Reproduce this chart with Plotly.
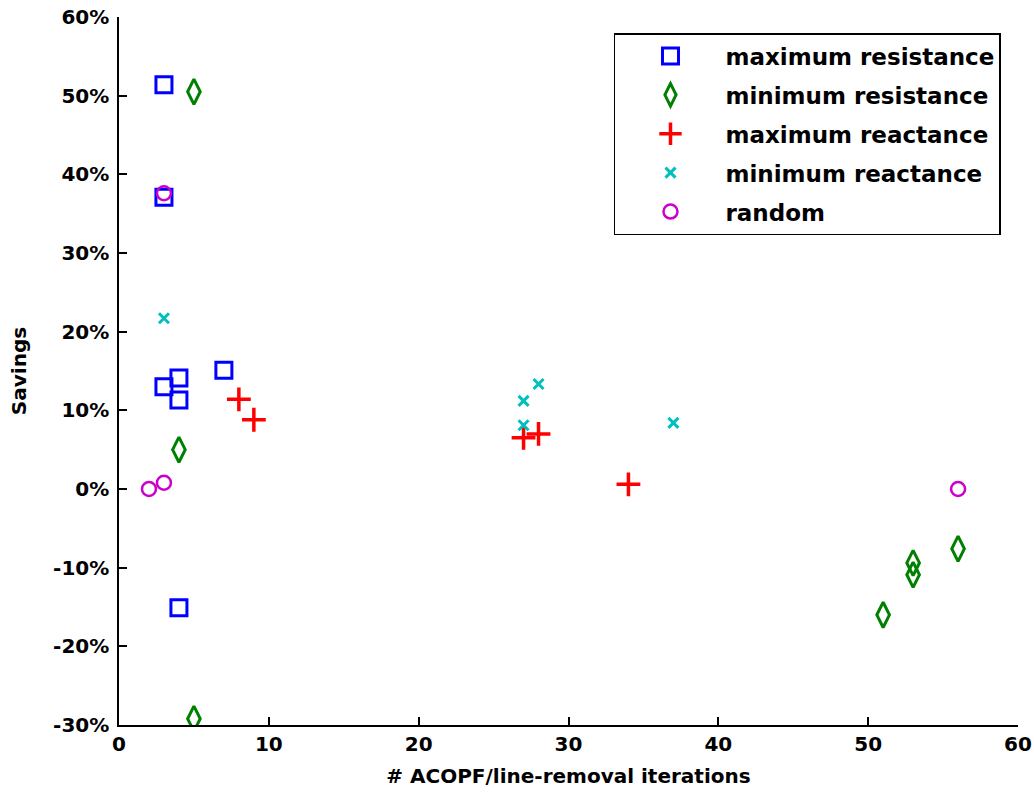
import plotly.graph_objects as go

# Data
max_res_x = [3, 3, 3, 4, 4, 7, 4]
max_res_y = [51.4, 37.1, 13.0, 14.1, 11.3, 15.1, -15.1]

min_res_x = [5, 4, 5, 51, 53, 53, 56]
min_res_y = [50.5, 5.0, -29.2, -16.0, -9.4, -10.9, -7.6]

max_reac_x = [8, 9, 27, 28, 34]
max_reac_y = [11.4, 8.8, 6.5, 7.0, 0.6]

min_reac_x = [3, 27, 28, 27, 37]
min_reac_y = [21.7, 11.2, 13.35, 8.1, 8.4]

rand_x = [3, 2, 3, 56]
rand_y = [37.6, 0.0, 0.8, 0.0]

x_ticks = [0, 10, 20, 30, 40, 50, 60]
y_ticks = [-30, -20, -10, 0, 10, 20, 30, 40, 50, 60]
y_tick_labels = [f"{v}%" for v in y_ticks]

FONT = "DejaVu Sans"

fig = go.Figure()

series = [
    ("maximum resistance", max_res_x, max_res_y, "square-open", "#0000ff", 16, 3),
    ("minimum resistance", min_res_x, min_res_y, "diamond-tall-open", "#008000", 18, 3),
    ("maximum reactance", max_reac_x, max_reac_y, "cross-thin-open", "#ff0000", 17, 3.5),
    ("minimum reactance", min_reac_x, min_reac_y, "x-thin-open", "#00bfbf", 10, 3),
    ("random", rand_x, rand_y, "circle-open", "#cc00cc", 14, 2.5),
]

for i, (name, xs, ys, sym, col, size, lw) in enumerate(series):
    fig.add_trace(go.Scatter(
        x=xs, y=ys, mode="markers", name=name, legendgroup=f"g{i}",
        marker=dict(symbol=sym, size=size, color=col, line=dict(color=col, width=lw)),
    ))

fig.update_layout(
    width=1034, height=801,
    margin=dict(l=119, r=16, t=17, b=76, autoexpand=False),
    paper_bgcolor="white", plot_bgcolor="white",
    font=dict(family=FONT, size=20, color="black", weight="bold"),
    showlegend=True,
    legend=dict(
        x=0.5506, y=0.9774, xanchor="left", yanchor="top",
        bgcolor="white", bordercolor="black", borderwidth=1.5,
        font=dict(family=FONT, size=23, color="black", weight="bold"),
        tracegroupgap=6, itemwidth=100,
        entrywidth=300, entrywidthmode="pixels",
    ),
    xaxis=dict(
        range=[0, 60], tickvals=x_ticks, ticks="inside", ticklen=8, tickwidth=1.5,
        tickcolor="black", showline=True, linecolor="black", linewidth=1.5,
        showgrid=False, zeroline=False, mirror=False, automargin=False,
        title=dict(text="# ACOPF/line-removal iterations", font=dict(family=FONT, size=20, weight="bold"), standoff=14),
        tickfont=dict(family=FONT, size=20, weight="bold"),
    ),
    yaxis=dict(
        range=[-30, 60], tickvals=y_ticks, ticktext=y_tick_labels, ticks="inside", ticklen=8,
        tickwidth=1.5, tickcolor="black", showline=True, linecolor="black", linewidth=1.5,
        showgrid=False, zeroline=False, mirror=False, automargin=False,
        ticklabelstandoff=4,
        title=dict(text="Savings", font=dict(family=FONT, size=20, weight="bold"), standoff=21),
        tickfont=dict(family=FONT, size=20, weight="bold"),
    ),
)

fig.write_html("out.html")
